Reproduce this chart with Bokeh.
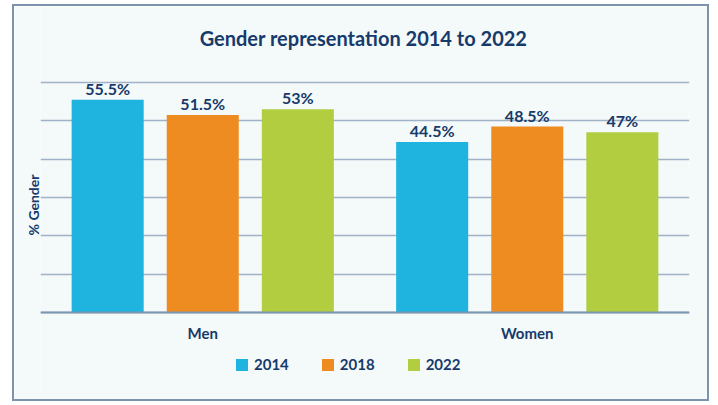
from bokeh.plotting import figure
from bokeh.models import (ColumnDataSource, FactorRange, Legend, LegendItem,
                          SingleIntervalTicker, FixedTicker, Range1d, Label)
from bokeh.transform import dodge
from bokeh.embed import file_html
from bokeh.resources import INLINE
from bokeh.core.properties import value

# ---- data ----
title_text = "Gender representation 2014 to 2022"
genders = ["Men", "Women"]
years = ["2014", "2018", "2022"]
v2014 = [55.5, 44.5]
v2018 = [51.5, 48.5]
v2022 = [53, 47]
labels2014 = ["55.5%", "44.5%"]
labels2018 = ["51.5%", "48.5%"]
labels2022 = ["53%", "47%"]
y_max = 60
y_step = 10

colors = ["#1fb4e0", "#ee8c22", "#b3cd40"]
navy = "#163a6a"
bg = "#f4f9fa"
FONT = "Lato"

source = ColumnDataSource(dict(
    gender=genders, v2014=v2014, v2018=v2018, v2022=v2022,
    l2014=labels2014, l2018=labels2018, l2022=labels2022,
))

# layout geometry (canvas pixels)
W, H = 697, 397
frame_left, frame_right = 26, 22
grid_top_px, base_px = 76, 306          # y = y_max and y = 0 in canvas pixels
k = (base_px - grid_top_px) / y_max      # pixels per unit
y_start = -(H - base_px) / k
y_end = y_max + grid_top_px / k

p = figure(
    x_range=FactorRange(*genders, range_padding=0.0),
    y_range=Range1d(y_start, y_end),
    width=W, height=H,
    output_backend="svg", toolbar_location=None,
    min_border_left=frame_left, min_border_right=frame_right,
    min_border_top=0, min_border_bottom=0,
    background_fill_color=bg, border_fill_color=bg,
    styles={"margin-left": "12px", "margin-top": "4px",
            "border": "2px solid #7d93ab"},
)
p.outline_line_color = None

p.add_layout(Label(x=323, y=H - 31, x_units="screen", y_units="screen",
                   text=title_text, text_align="center", text_baseline="middle",
                   text_font=FONT, text_font_size="20px", text_font_style="bold",
                   text_color=navy))

offsets = [-0.293, 0.0, 0.293]
vals = ["v2014", "v2018", "v2022"]
labs = ["l2014", "l2018", "l2022"]
items = []
for yr, off, vc, lc, col in zip(years, offsets, vals, labs, colors):
    r = p.vbar(x=dodge("gender", off, range=p.x_range), top=vc, width=0.222,
               source=source, fill_color=col, line_color=None)
    items.append(LegendItem(label=yr, renderers=[r]))
    p.text(x=dodge("gender", off, range=p.x_range), y=vc, text=lc, source=source,
           text_align="center", text_baseline="bottom", y_offset=-2,
           text_font=value(FONT), text_font_style="bold", text_font_size="16px",
           text_color=navy)

# grid
p.xgrid.grid_line_color = None
p.ygrid.ticker = SingleIntervalTicker(interval=y_step)
p.ygrid.bounds = (0, y_max)
p.ygrid.grid_line_color = "#9fb2c8"
p.ygrid.grid_line_width = 1.5

# y axis (label only)
p.yaxis.ticker = FixedTicker(ticks=[])
p.yaxis.bounds = (0, y_max)
p.yaxis.axis_label = "% Gender"
p.yaxis.axis_label_text_font = FONT
p.yaxis.axis_label_text_font_style = "bold"
p.yaxis.axis_label_text_font_size = "14px"
p.yaxis.axis_label_text_color = navy
p.yaxis.axis_label_standoff = -1
p.yaxis.major_tick_line_color = None
p.yaxis.minor_tick_line_color = None
p.yaxis.axis_line_color = None

# x axis drawn at y = 0
p.xaxis.fixed_location = 0
p.xaxis.axis_line_color = "#7a96b0"
p.xaxis.axis_line_width = 2
p.xaxis.major_tick_line_color = None
p.xaxis.major_tick_out = 0
p.xaxis.major_tick_in = 0
p.xaxis.major_label_standoff = 11
p.xaxis.major_label_text_font = FONT
p.xaxis.major_label_text_font_style = "bold"
p.xaxis.major_label_text_font_size = "15px"
p.xaxis.major_label_text_color = navy

legend = Legend(items=items, orientation="horizontal", location=(194, 30),
                background_fill_alpha=0, border_line_color=None,
                label_text_font=FONT, label_text_font_style="bold",
                label_text_font_size="15px", label_text_color=navy,
                glyph_width=15, glyph_height=15, label_standoff=5, spacing=31,
                margin=0, padding=0)
p.add_layout(legend, "center")

open("out.html", "w").write(file_html(p, INLINE))
